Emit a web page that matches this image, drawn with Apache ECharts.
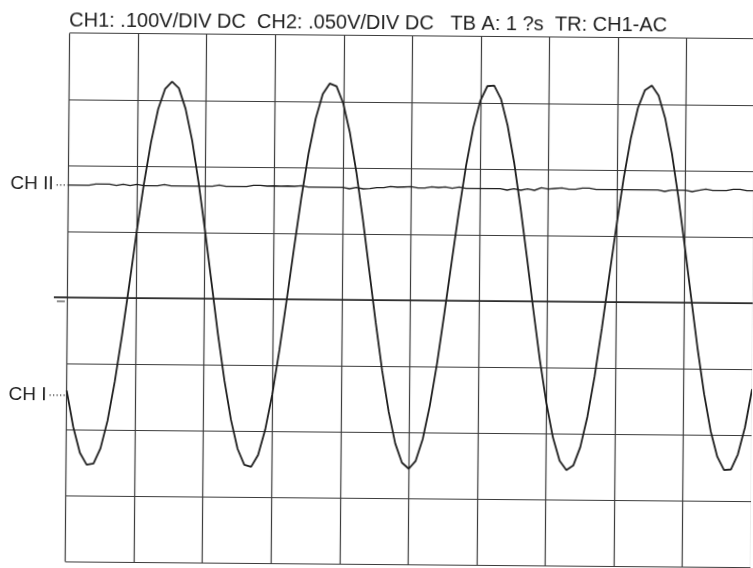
<!DOCTYPE html>
<html>
<head>
<meta charset="utf-8">
<script src="https://cdn.jsdelivr.net/npm/echarts@6/dist/echarts.min.js"></script>
<style>
  html, body { margin: 0; padding: 0; background: #ffffff; overflow: hidden; }
  #scope { width: 753px; height: 568px; transform: rotate(0.48deg); transform-origin: 50% 50%; }
</style>
</head>
<body>
<div id="scope"></div>
<script>
// Scope readout: 10 horizontal divisions (1 us/div), 8 vertical divisions.
const headerText = 'CH1: .100V/DIV DC  CH2: .050V/DIV DC   TB A: 1 ?s  TR: CH1-AC';
const channelLabels = ['CH II', 'CH I'];
const channelMarkers = [1.70, -1.48];   // marker levels, in divisions
const SAMPLE_STEP_US = 0.1;              // time between stored samples
const X_DIVS = 10;
const Y_HALF_DIVS = 4;

// Channel 1 trace, in divisions from screen centre
const ch1Div = [
  -1.41, -1.96, -2.35, -2.53, -2.51, -2.28, -1.86, -1.27, -0.57, 0.20,
   0.99,  1.72,  2.36,  2.86,  3.17,  3.28,  3.18,  2.87,  2.39, 1.75,
   1.02,  0.24, -0.54, -1.24, -1.83, -2.27, -2.51, -2.54, -2.36, -1.98,
  -1.44, -0.76,  0.00,  0.78,  1.54,  2.21,  2.74,  3.11,  3.27, 3.23,
   2.97,  2.53,  1.93,  1.22,  0.44, -0.34, -1.07, -1.69, -2.17, -2.46,
  -2.55, -2.43, -2.10, -1.59, -0.95, -0.20,  0.58,  1.35,  2.05, 2.62,
   3.03,  3.25,  3.26,  3.06,  2.66,  2.10,  1.41,  0.65, -0.14, -0.89,
  -1.54, -2.06, -2.41, -2.55, -2.48, -2.20, -1.74, -1.13, -0.40, 0.38,
   1.15,  1.87,  2.48,  2.94,  3.21,  3.28,  3.13,  2.78,  2.26, 1.60,
   0.85,  0.07, -0.70, -1.38, -1.94, -2.33, -2.53, -2.52, -2.29, -1.88,
  -1.30
];

// Channel 2 trace (nearly flat, with small noise blips)
const ch2Div = [
  1.70, 1.70, 1.70, 1.70, 1.72, 1.72, 1.72, 1.70, 1.72, 1.70,
  1.72, 1.70, 1.70, 1.70, 1.72, 1.70, 1.70, 1.70, 1.70, 1.70,
  1.70, 1.70, 1.72, 1.70, 1.70, 1.70, 1.70, 1.72, 1.72, 1.71,
  1.715, 1.71, 1.715, 1.71, 1.72, 1.70, 1.70, 1.70, 1.70, 1.70,
  1.70, 1.68, 1.70, 1.68, 1.685, 1.70, 1.70, 1.72, 1.71, 1.715,
  1.72, 1.70, 1.70, 1.72, 1.71, 1.72, 1.70, 1.72, 1.70, 1.70,
  1.70, 1.70, 1.70, 1.70, 1.68, 1.70, 1.68, 1.70, 1.68, 1.72,
  1.70, 1.71, 1.72, 1.70, 1.70, 1.72, 1.72, 1.70, 1.70, 1.70,
  1.70, 1.70, 1.70, 1.70, 1.70, 1.70, 1.70, 1.68, 1.70, 1.70,
  1.70, 1.68, 1.70, 1.72, 1.70, 1.70, 1.70, 1.72, 1.72, 1.70,
  1.70
];

const INK = '#1e1e1e';
const GRID_INK = '#3c3c3c';
const FONT = 'Liberation Sans, Arial, sans-serif';

const toPoints = arr => arr.map((v, i) => [+(i * SAMPLE_STEP_US).toFixed(2), v]);

const chart = echarts.init(document.getElementById('scope'), null, { renderer: 'canvas' });

chart.setOption({
  animation: false,
  backgroundColor: '#ffffff',
  title: {
    text: headerText,
    left: 67, top: 13, padding: 0,
    textStyle: { fontFamily: FONT, fontSize: 20, fontWeight: 'normal', color: INK }
  },
  grid: { left: 67.6, top: 35.7, width: 693, height: 528.6 },
  xAxis: {
    type: 'value', min: 0, max: X_DIVS, interval: 1,
    axisLine: { show: false }, axisTick: { show: false }, axisLabel: { show: false },
    splitLine: { show: true, lineStyle: { color: GRID_INK, width: 1.2 } }
  },
  yAxis: {
    type: 'value', min: -Y_HALF_DIVS, max: Y_HALF_DIVS, interval: 1,
    axisLine: { show: false }, axisTick: { show: false }, axisLabel: { show: false },
    splitLine: { show: true, lineStyle: { color: GRID_INK, width: 1.2 } }
  },
  series: [
    {
      name: 'CH2', type: 'line', data: toPoints(ch2Div), showSymbol: false,
      lineStyle: { color: INK, width: 1.4 }
    },
    {
      name: 'CH1', type: 'line', data: toPoints(ch1Div), showSymbol: false,
      lineStyle: { color: INK, width: 1.8 },
      markLine: {
        silent: true, symbol: 'none', label: { show: false },
        lineStyle: { color: '#262626', width: 1.6, type: 'solid' },
        data: [{ yAxis: 0 }]
      }
    }
  ]
});

// Channel markers and ground marker on the left edge
const leftPx = chart.convertToPixel({ gridIndex: 0 }, [0, 0])[0];
const zeroPx = chart.convertToPixel({ gridIndex: 0 }, [0, 0])[1];
const graphics = [];
channelLabels.forEach((label, i) => {
  const y = chart.convertToPixel({ gridIndex: 0 }, [0, channelMarkers[i]])[1];
  const textEl = new echarts.graphic.Text({
    style: { text: label, font: '19px ' + FONT }
  });
  const w = textEl.getBoundingRect().width;
  graphics.push({
    type: 'text', left: 9.5, top: y - 10,
    style: { text: label, font: '19px ' + FONT, fill: INK }
  });
  graphics.push({
    type: 'line',
    shape: { x1: 9.5 + w + 3, y1: y, x2: leftPx - 1, y2: y },
    style: { stroke: INK, lineWidth: 1.3, lineDash: [1.2, 2.3] }
  });
});
graphics.push({
  type: 'line', shape: { x1: 54, y1: zeroPx, x2: leftPx, y2: zeroPx },
  style: { stroke: '#222222', lineWidth: 1.8 }
});
graphics.push({
  type: 'line', shape: { x1: 57, y1: zeroPx + 4, x2: 65, y2: zeroPx + 4 },
  style: { stroke: '#444444', lineWidth: 1.2 }
});
chart.setOption({ graphic: graphics });
</script>
</body>
</html>
